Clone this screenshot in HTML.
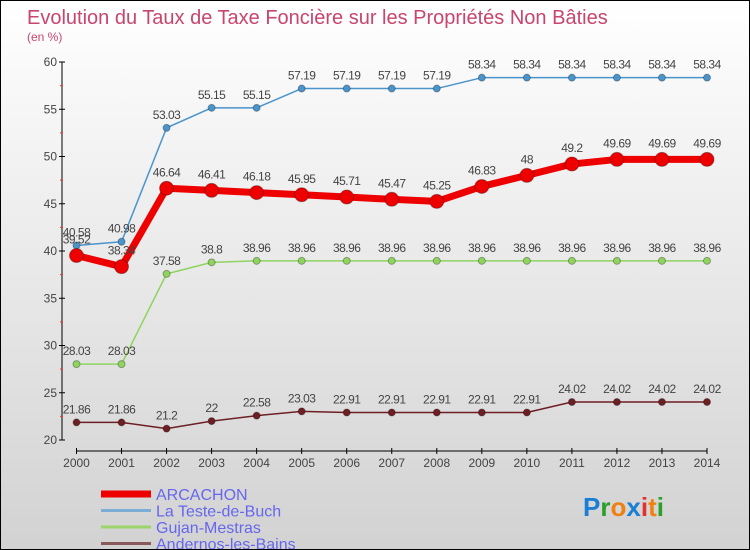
<!DOCTYPE html>
<html><head><meta charset="utf-8"><style>
body{margin:0}
#c{width:750px;height:550px;position:relative;overflow:hidden;box-sizing:border-box;border:1px solid #000;background:linear-gradient(#fff,#d2d2d2);font-family:"Liberation Sans",sans-serif}
svg{position:absolute;left:0;top:0}
</style></head><body>
<div id="c">
<svg id="s" width="750" height="550">
<text x="26" y="23" font-size="20" fill="#c8456e">Evolution du Taux de Taxe Foncière sur les Propriétés Non Bâties</text>
<text x="26" y="40" font-size="12" fill="#c8456e">(en %)</text>
</svg>
</div>
<script>
const years=[2000,2001,2002,2003,2004,2005,2006,2007,2008,2009,2010,2011,2012,2013,2014];
const arcachon=[39.52,38.34,46.64,46.41,46.18,45.95,45.71,45.47,45.25,46.83,48,49.2,49.69,49.69,49.69];
const laTeste=[40.58,40.98,53.03,55.15,55.15,57.19,57.19,57.19,57.19,58.34,58.34,58.34,58.34,58.34,58.34];
const gujan=[28.03,28.03,37.58,38.8,38.96,38.96,38.96,38.96,38.96,38.96,38.96,38.96,38.96,38.96,38.96];
const andernos=[21.86,21.86,21.2,22,22.58,23.03,22.91,22.91,22.91,22.91,22.91,24.02,24.02,24.02,24.02];
const yTicks=[20,25,30,35,40,45,50,55,60];
const NS="http://www.w3.org/2000/svg",s=document.getElementById('s');
const X=i=>75.5+i*(706-75.5)/(years.length-1);
const Y=v=>439-(v-20)*(378/40);
function el(t,a,p){const e=document.createElementNS(NS,t);for(const k in a)e.setAttribute(k,a[k]);(p||s).appendChild(e);return e;}
const ax=el('g',{});
el('line',{x1:61,y1:Y(60),x2:61,y2:Y(20),stroke:'#000'},ax);
el('line',{x1:75,y1:450,x2:706,y2:450,stroke:'#000'},ax);
yTicks.forEach(v=>{el('line',{x1:58,x2:64,y1:Y(v),y2:Y(v),stroke:'#000'},ax);
 if(v<60)el('line',{x1:59,x2:62,y1:Y(v+2.5),y2:Y(v+2.5),stroke:'#e33'},ax);
 const t=el('text',{x:56,y:Y(v)+4,'font-size':12,fill:'#444','text-anchor':'end'},ax);t.textContent=v;
 });
years.forEach((y,i)=>{el('line',{x1:X(i),x2:X(i),y1:447,y2:453,stroke:'#000'},ax);
 const t=el('text',{x:X(i),y:466,'font-size':12,fill:'#444','text-anchor':'middle'},ax);t.textContent=y;
 });
function series(d,col,w,r,name,dy){
 const g=el('g',{});
 el('polyline',{points:d.map((v,i)=>X(i)+','+Y(v)).join(' '),fill:'none',stroke:col,'stroke-width':w,'stroke-linejoin':'round'},g);
 d.forEach((v,i)=>{const c=el('circle',{cx:X(i),cy:Y(v),r:r,fill:col,stroke:'rgba(0,0,0,0.3)'},g);
  
  const t=el('text',{x:X(i),y:Y(v)-dy,'font-size':12,fill:'#444','text-anchor':'middle','letter-spacing':'-0.5'},g);t.textContent=v;
  });
}
series(andernos,'#6e1f24',1.5,3.5,'andernos',9);
series(gujan,'#8fd45f',1.5,3.5,'gujan',9);
series(laTeste,'#4a94cc',1.5,3.5,'la-teste',9);
series(arcachon,'#ee0000',7,7,'arcachon',12);
const lg=[['ARCACHON','#ee0000',7],['La Teste-de-Buch','#7aaed6',3],['Gujan-Mestras','#9ad46a',3],['Andernos-les-Bains','#8a5a5a',3]];
lg.forEach((l,i)=>{const g=el('g',{});
 const y=493+i*16.5;el('line',{x1:100,x2:150,y1:y,y2:y,stroke:l[1],'stroke-width':l[2]},g);
 const t=el('text',{x:155,y:y+6,'font-size':16,fill:'#6666ee'},g);t.textContent=l[0];});
const lo=el('text',{x:582,y:515,'font-size':26,'font-weight':'bold'});
[['P','#1a7fd4'],['r','#2aa02a'],['o','#f08010'],['x','#1a7fd4'],['i','#e03030'],['t','#f08010'],['i','#2aa02a']].forEach(c=>{const ts=el('tspan',{fill:c[1]},lo);ts.textContent=c[0];});
</script>
</body></html>
